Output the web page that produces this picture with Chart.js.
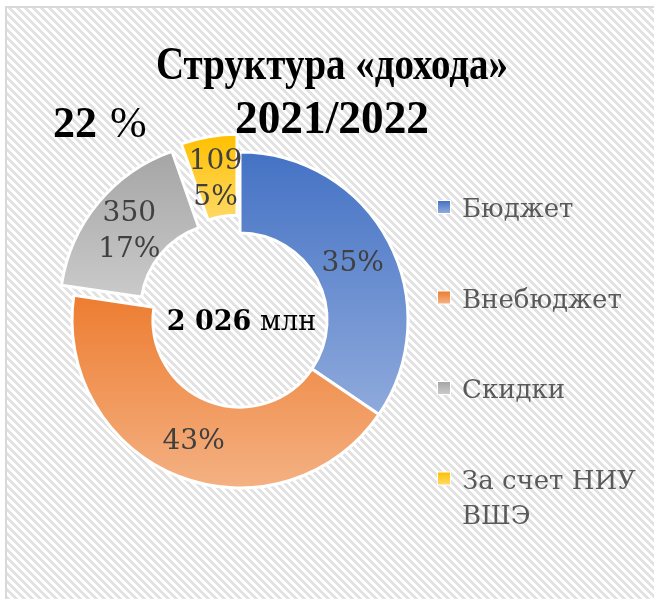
<!DOCTYPE html>
<html><head><meta charset="utf-8">
<script src="https://cdn.jsdelivr.net/npm/chart.js@4"></script>
<style>html,body{margin:0;padding:0;background:#fff;overflow:hidden}</style>
</head><body>
<canvas id="c" width="654" height="599"></canvas>
<script>
// ---- data ----
const categories = ['Бюджет', 'Внебюджет', 'Скидки', 'За счет НИУ ВШЭ'];
const legendLines = [['Бюджет'], ['Внебюджет'], ['Скидки'], ['За счет НИУ', 'ВШЭ']];
const values = [699, 868, 350, 109];
const totalLabel = '2 026';
const totalUnit = 'млн';
const titleLines = ['Структура «дохода»', '2021/2022'];
const sideNoteNumber = '22';
const sideNoteUnit = '%';
const showValue = [false, false, true, true];

// ---- styles ----
const topColors = ['#4472C4', '#ED7D31', '#A5A5A5', '#FFC000'];
const bottomColors = ['#8FAADC', '#F4B183', '#CACACA', '#FFD966'];
const explode = [0, 0, 16, 18];

function drawFit(ctx, text, x, y, w, align) {
  const m = ctx.measureText(text).width;
  const s = w / m;
  ctx.save();
  ctx.translate(x, y);
  ctx.scale(s, 1);
  ctx.textAlign = align;
  ctx.fillText(text, 0, 0);
  ctx.restore();
  return s;
}

const bgPlugin = {
  id: 'bg',
  beforeDraw(chart) {
    const ctx = chart.ctx;
    const W = chart.width, H = chart.height;
    ctx.save();
    ctx.fillStyle = '#fff';
    ctx.fillRect(0, 0, W, H);
    const t = document.createElement('canvas');
    t.width = 8; t.height = 8;
    const tc = t.getContext('2d');
    tc.fillStyle = '#fff'; tc.fillRect(0, 0, 8, 8);
    tc.fillStyle = '#e2e2e2';
    for (let yy = 0; yy < 8; yy++) for (let xx = 0; xx < 8; xx++) {
      if (((xx - yy) % 8 + 8) % 8 < 4) tc.fillRect(xx, yy, 1, 1);
    }
    ctx.fillStyle = ctx.createPattern(t, 'repeat');
    ctx.fillRect(6, 7, W - 6, H - 7);
    ctx.strokeStyle = '#d9d9d9';
    ctx.lineWidth = 2;
    ctx.beginPath();
    ctx.moveTo(6, H + 2); ctx.lineTo(6, 7); ctx.lineTo(W + 2, 7);
    ctx.stroke();
    ctx.restore();
  }
};

const explodePlugin = {
  id: 'explode',
  afterDatasetsUpdate(chart) {
    const ctx = chart.ctx;
    const meta = chart.getDatasetMeta(0);
    meta.data.forEach((arc, i) => {
      const d = explode[i] || 0;
      const h = (arc.startAngle + arc.endAngle) / 2;
      arc.x += Math.cos(h) * d;
      arc.y += Math.sin(h) * d;
      let minY = Infinity, maxY = -Infinity;
      for (let k = 0; k <= 80; k++) {
        const a = arc.startAngle + (arc.endAngle - arc.startAngle) * k / 80;
        for (const r of [arc.innerRadius, arc.outerRadius]) {
          const yy = arc.y + Math.sin(a) * r;
          minY = Math.min(minY, yy); maxY = Math.max(maxY, yy);
        }
      }
      const g = ctx.createLinearGradient(0, minY, 0, maxY);
      g.addColorStop(0, topColors[i]);
      g.addColorStop(1, bottomColors[i]);
      arc.options = Object.assign({}, arc.options, { backgroundColor: g });
    });
  }
};

const labelPlugin = {
  id: 'labels',
  afterDatasetsDraw(chart) {
    const ctx = chart.ctx;
    const meta = chart.getDatasetMeta(0);
    const total = values.reduce((a, b) => a + b, 0);
    ctx.save();
    ctx.font = '28px "DejaVu Serif"';
    ctx.fillStyle = '#404040';
    ctx.textAlign = 'center';
    ctx.textBaseline = 'alphabetic';
    meta.data.forEach((arc, i) => {
      const p = arc.getCenterPoint();
      const pct = Math.round(values[i] / total * 100) + '%';
      const lines = showValue[i] ? [String(values[i]), pct] : [pct];
      const lh = 36;
      const y0 = p.y - (lines.length - 1) * lh / 2 + 10.5;
      lines.forEach((ln, k) => ctx.fillText(ln, p.x, y0 + k * lh));
    });
    ctx.restore();
  }
};

const textPlugin = {
  id: 'texts',
  afterDraw(chart) {
    const ctx = chart.ctx;
    ctx.save();
    ctx.textBaseline = 'alphabetic';
    // title
    ctx.fillStyle = '#000';
    ctx.font = 'bold 47px "Liberation Serif"';
    drawFit(ctx, titleLines[0], 332, 79, 352, 'center');
    drawFit(ctx, titleLines[1], 332, 133, 194, 'center');
    // side note
    ctx.textAlign = 'left';
    ctx.font = 'bold 44px "Liberation Serif"';
    ctx.fillText(sideNoteNumber, 53, 137);
    const w22 = ctx.measureText(sideNoteNumber + ' ').width;
    ctx.font = '44px "Liberation Serif"';
    ctx.fillText(sideNoteUnit, 53 + w22 + 2, 137);
    // center total
    const c = chart.getDatasetMeta(0).data[0];
    ctx.font = 'bold 27px "DejaVu Serif"';
    const wb = ctx.measureText(totalLabel).width;
    ctx.font = '27px "DejaVu Serif"';
    const wsp = ctx.measureText(' ').width;
    const wu = ctx.measureText(totalUnit).width;
    const x0 = c.x + 1.5 - (wb + wsp + wu) / 2;
    ctx.font = 'bold 27px "DejaVu Serif"';
    ctx.fillText(totalLabel, x0, c.y + 10);
    ctx.font = '27px "DejaVu Serif"';
    ctx.fillText(totalUnit, x0 + wb + wsp, c.y + 10);
    // legend
    ctx.font = '26px "DejaVu Serif"';
    let by = 217;
    legendLines.forEach((lines, i) => {
      const g = ctx.createLinearGradient(0, by - 16, 0, by - 4);
      g.addColorStop(0, topColors[i]); g.addColorStop(1, bottomColors[i]);
      ctx.fillStyle = '#fff';
      ctx.fillRect(437, by - 17, 14, 14);
      ctx.fillStyle = g;
      ctx.fillRect(438, by - 16, 12, 12);
      ctx.fillStyle = '#595959';
      lines.forEach((ln, k) => ctx.fillText(ln, 462, by + k * 35));
      by += 90.5;
    });
    ctx.restore();
  }
};

new Chart(document.getElementById('c'), {
  type: 'doughnut',
  data: {
    labels: categories,
    datasets: [{
      data: values,
      backgroundColor: topColors,
      borderColor: '#ffffff',
      borderWidth: 3,
      hoverOffset: 0
    }]
  },
  options: {
    responsive: false,
    animation: false,
    radius: 168,
    cutout: '51.8%',
    layout: { padding: { left: 40, right: 214, top: 120, bottom: 79 } },
    plugins: { legend: { display: false }, title: { display: false }, tooltip: { enabled: false } },
    events: []
  },
  plugins: [bgPlugin, explodePlugin, labelPlugin, textPlugin]
});
</script>
</body></html>
